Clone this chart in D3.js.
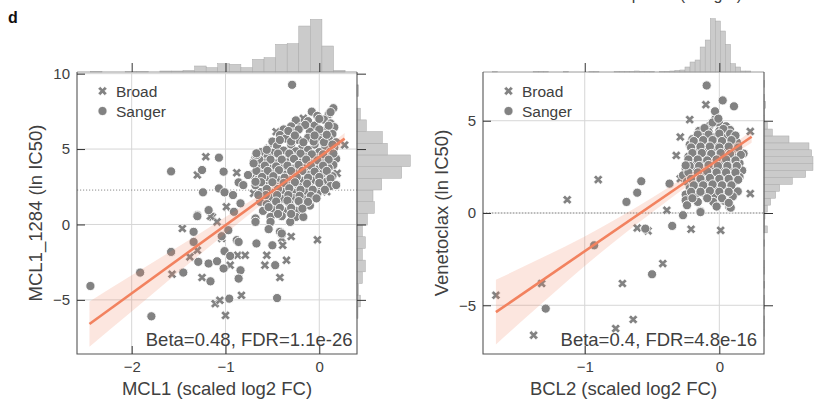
<!DOCTYPE html>
<html>
<head>
<meta charset="utf-8">
<script src="https://cdn.jsdelivr.net/npm/d3@7"></script>
<style>
  body { margin: 0; background: #fff; }
  svg { display: block; }
  text { font-family: "Liberation Sans", Arial, sans-serif; }
</style>
</head>
<body>
<svg id="chart" width="814" height="401"></svg>
<script>
// ---------- MCL1 panel data ----------
const leftXLabel = "MCL1 (scaled log2 FC)";
const leftYLabel = "MCL1_1284 (ln IC50)";
const leftStat = "Beta=0.48, FDR=1.1e-26";
const leftXDomain = [-2.583, 0.402];
const leftYDomain = [-8.59, 10.11];
const leftXTicks = [-2, -1, 0];
const leftYTicks = [-5, 0, 5, 10];
const leftMaxConc = 2.28;
const leftFitCoef = [4.47, 4.52];          // intercept, slope
const leftFitRange = [-2.45, 0.27];
const leftBandX = [-2.45, -2.0, -1.5, -1.0, -0.5, 0.0, 0.27];
const leftBandHalf = [1.5, 1.2, 0.85, 0.55, 0.33, 0.3, 0.38];

const leftSanger = [
  // main cloud
  [-0.08,7.48],[0.15,7.71],[0.1,7.3],[-0.02,7.2],
  [-0.25,6.9],[-0.12,6.85],[0.05,6.95],[0.12,6.7],[-0.3,6.5],
  [-0.38,6.3],[-0.2,6.45],[-0.05,6.55],[0.08,6.3],[0.16,6.45],[-0.42,5.93],[-0.28,6.1],[-0.1,6.15],[0.02,6.05],[0.14,6.0],
  [-0.5,5.5],[-0.36,5.7],[-0.22,5.6],[-0.12,5.75],[0.0,5.6],[0.1,5.7],[0.18,5.45],[-0.45,5.2],[-0.3,5.3],[-0.18,5.15],[-0.05,5.3],[0.06,5.2],[0.16,5.1],
  [-0.62,4.8],[-0.5,4.75],[-0.38,4.9],[-0.25,4.85],[-0.12,4.95],[0.0,4.8],[0.12,4.85],[-0.55,4.5],[-0.42,4.45],[-0.3,4.55],[-0.16,4.5],[-0.04,4.4],[0.08,4.5],[0.18,4.35],
  [-0.7,4.15],[-0.58,4.1],[-0.46,4.05],[-0.34,4.15],[-0.2,4.1],[-0.08,4.05],[0.05,4.15],[0.15,3.95],[-0.64,3.75],[-0.52,3.7],[-0.4,3.8],[-0.28,3.7],[-0.15,3.75],[-0.02,3.65],[0.1,3.75],
  [-0.72,3.3],[-0.6,3.35],[-0.48,3.4],[-0.36,3.3],[-0.24,3.4],[-0.1,3.3],[0.03,3.35],[0.14,3.2],[-0.66,2.95],[-0.55,3.0],[-0.42,2.95],[-0.3,3.0],[-0.18,2.9],[-0.05,2.95],[0.08,2.85],[0.18,2.61],
  [-0.68,2.6],[-0.57,2.55],[-0.45,2.5],[-0.34,2.6],[-0.22,2.5],[-0.1,2.45],[0.02,2.5],[-0.62,2.15],[-0.5,2.1],[-0.38,2.2],[-0.26,2.1],[-0.14,2.15],[-0.02,2.05],
  [-0.63,1.5],[-0.52,1.75],[-0.4,1.7],[-0.28,1.75],[-0.16,1.65],[-0.03,1.73],[-0.56,1.35],[-0.44,1.3],[-0.32,1.4],[-0.2,1.3],[-0.1,1.25],
  [-0.6,0.9],[-0.48,0.95],[-0.36,0.85],[-0.24,0.9],[-0.68,0.4],[-0.52,0.5],[-0.4,0.55],[-0.25,0.5],[-0.17,0.5],[-0.52,0.17],[-0.31,0.17],
  [0.0,7.0],[0.12,7.45],
  [-0.15,6.6],[0.0,6.3],[0.1,6.55],[-0.33,6.2],[-0.22,6.3],
  [-0.42,5.6],[-0.3,5.5],[-0.17,5.45],[-0.06,5.5],[0.05,5.45],[0.14,5.3],[-0.26,5.9],[-0.05,5.9],[0.08,5.95],
  [-0.56,4.95],[-0.44,4.7],[-0.32,4.7],[-0.2,4.7],[-0.08,4.65],[0.04,4.65],[0.15,4.7],[-0.68,4.45],
  [-0.64,4.3],[-0.52,4.3],[-0.4,4.3],[-0.27,4.35],[-0.14,4.3],[-0.02,4.25],[0.1,4.3],[-0.58,3.9],[-0.46,3.85],[-0.34,3.9],[-0.22,3.95],[-0.09,3.9],[0.04,3.9],
  [-0.67,3.55],[-0.55,3.55],[-0.43,3.6],[-0.3,3.55],[-0.18,3.55],[-0.05,3.5],[0.08,3.55],[-0.61,3.15],[-0.49,3.2],[-0.37,3.1],[-0.24,3.15],[-0.12,3.1],[0.0,3.15],[0.12,3.05],
  [-0.62,2.8],[-0.5,2.8],[-0.38,2.75],[-0.26,2.8],[-0.13,2.7],[0.0,2.75],[0.12,2.55],[-0.56,2.35],[-0.44,2.35],[-0.32,2.4],[-0.2,2.3],[-0.07,2.3],[0.06,2.3],
  [-0.57,1.95],[-0.45,1.95],[-0.33,1.95],[-0.21,1.9],[-0.09,1.9],[-0.46,1.52],[-0.34,1.58],[-0.22,1.55],[-0.12,1.5],
  [-0.54,1.15],[-0.42,1.1],[-0.3,1.1],[-0.18,1.05],[-0.44,0.7],[-0.3,0.7],
  // scattered
  [-0.29,9.26],[-1.07,4.43],[-1.25,3.61],[-1.02,3.5],[-1.24,2.13],[-1.07,2.39],[-1.01,2.13],[-0.92,1.95],[-0.86,2.79],[-0.81,2.61],
  [-0.76,3.28],[-0.68,2.83],[-0.65,1.95],[-0.84,1.4],[-0.91,0.84],[-1.18,0.95],[-1.3,0.62],[-1.34,-0.49],[-0.97,-0.38],[-0.88,-1.04],
  [-0.68,0.17],[-0.54,-0.31],[-0.42,-0.49],[-0.03,1.73],[0.18,2.61],[-0.67,4.6],[-0.7,4.05],[-1.58,3.52],[-0.67,4.72],
  [-2.44,-4.08],[-1.91,-3.19],[-1.79,-6.09],[-1.58,-1.82],[-1.45,-3.19],[-1.34,-1.16],[-1.3,0.55],[-1.29,-2.48],[-1.18,-2.59],
  [-1.16,-3.77],[-1.09,-2.44],[-1.02,-2.92],[-1.04,-0.78],[-1.01,-1.77],[-0.95,-2.09],[-0.86,-1.16],[-0.84,-3.04],[-0.86,-3.59],
  [-0.96,-4.92],[-0.67,-1.26],[-0.47,-2.7],[-0.5,-1.38],[-0.4,-0.6],[-0.45,-4.88]
];
const leftBroad = [
  [-1.21,4.49],[-1.3,3.28],[-0.88,3.43],[-0.62,2.79],[-0.7,2.06],[-0.99,1.17],[-1.14,0.5],[-1.09,0.17],[-1.04,-0.93],
  [-0.3,-0.8],[-0.4,-0.93],[-0.02,-1.02],[0.08,2.17],[0.27,5.27],[-0.17,7.04],[-0.46,6.15],[-0.54,5.05],[0.19,3.39],
  [-1.57,-3.3],[-1.46,-0.27],[-1.3,-1.71],[-1.38,-2.15],[-1.16,0.55],[-1.25,-3.52],[-0.95,-2.7],[-0.87,-2.04],[-0.79,-2.04],
  [-0.83,-4.7],[-1.11,-5.25],[-1.06,-5.03],[-1.0,-6.03],[-0.56,-2.04],[-0.58,-2.7],[-0.42,-3.52],[-0.39,-1.38],[-0.35,-2.37]
];
// marginal histograms: first bin edge, bin width, counts
const leftTopStart = -2.44, leftTopWidth = 0.1234;
const leftTopCounts = [1,0,0,1,1,0,3,3,5,18,13,25,23,13,38,43,83,85,138,158,78,5];
const leftSideStart = -6.24, leftSideWidth = 0.775;
const leftSideCounts = [3,10,5,16,25,16,25,16,31,52,48,74,134,160,91,76,28,10,0,5];

// ---------- BCL2 panel data ----------
const rightXLabel = "BCL2 (scaled log2 FC)";
const rightYLabel = "Venetoclax (ln IC50)";
const rightStat = "Beta=0.4, FDR=4.8e-16";
const rightXDomain = [-1.756, 0.332];
const rightYDomain = [-7.64, 7.64];
const rightXTicks = [-1, 0];
const rightYTicks = [-5, 0, 5];
const rightMaxConc = 0.0;
const rightFitCoef = [2.93, 5.0];
const rightFitRange = [-1.66, 0.24];
const rightBandX = [-1.66, -1.33, -1.0, -0.5, 0.0, 0.24];
const rightBandHalf = [1.75, 1.25, 0.8, 0.4, 0.25, 0.32];

const rightSanger = [
  [-0.03,5.1],[0.0,4.85],[-0.07,4.75],[0.05,4.7],
  [-0.15,4.45],[-0.08,4.4],[0.0,4.45],[0.08,4.5],[-0.12,4.15],[-0.04,4.1],[0.04,4.2],[0.11,4.1],[-0.2,4.0],
  [-0.22,3.7],[-0.15,3.75],[-0.08,3.8],[-0.01,3.7],[0.06,3.75],[0.13,3.84],[-0.18,3.4],[-0.11,3.45],[-0.04,3.4],[0.03,3.5],[0.1,3.4],[0.18,3.22],
  [-0.23,3.05],[-0.16,3.1],[-0.09,3.0],[-0.02,3.1],[0.05,3.05],[0.12,3.0],[-0.2,2.75],[-0.13,2.7],[-0.06,2.8],[0.01,2.7],[0.08,2.75],[0.15,2.7],
  [-0.25,2.4],[-0.18,2.35],[-0.11,2.45],[-0.04,2.4],[0.03,2.35],[0.1,2.45],[0.17,2.3],[-0.27,2.04],[-0.2,2.0],[-0.13,2.05],[-0.06,2.1],[0.01,2.0],[0.08,2.05],[0.15,1.95],
  [-0.24,1.7],[-0.17,1.65],[-0.1,1.75],[-0.03,1.7],[0.04,1.65],[0.11,1.7],[-0.22,1.35],[-0.15,1.3],[-0.08,1.4],[-0.01,1.3],[0.06,1.35],[0.137,1.17],
  [-0.25,1.0],[-0.18,0.95],[-0.11,1.05],[-0.04,0.95],[0.03,1.0],[0.1,0.9],[-0.25,0.69],[-0.16,0.6],[-0.045,0.6],[0.04,0.65],[-0.14,0.09],[0.074,0.32],[-0.24,0.42],[0.085,0.29],[-0.02,0.35],
  [-0.05,4.9],[0.03,4.55],[-0.11,4.6],[-0.16,4.25],[-0.08,4.25],[0.0,4.3],[0.08,4.3],[0.12,4.2],
  [-0.19,3.9],[-0.12,3.95],[-0.05,3.95],[0.02,3.9],[0.09,3.95],[-0.21,3.55],[-0.14,3.6],[-0.07,3.6],[0.0,3.55],[0.07,3.6],[0.14,3.55],
  [-0.2,3.25],[-0.13,3.25],[-0.06,3.2],[0.01,3.25],[0.08,3.2],[0.16,3.15],[-0.23,2.9],[-0.16,2.9],[-0.09,2.85],[-0.02,2.9],[0.05,2.9],[0.12,2.85],
  [-0.22,2.55],[-0.15,2.55],[-0.08,2.6],[-0.01,2.55],[0.06,2.55],[0.13,2.55],[-0.23,2.2],[-0.16,2.2],[-0.09,2.25],[-0.02,2.2],[0.05,2.2],[0.12,2.2],
  [-0.21,1.85],[-0.14,1.85],[-0.07,1.9],[0.0,1.85],[0.07,1.85],[0.14,1.8],[-0.19,1.5],[-0.12,1.5],[-0.05,1.55],[0.02,1.5],[0.09,1.5],
  [-0.21,1.15],[-0.14,1.15],[-0.07,1.2],[0.0,1.15],[0.07,1.15],[-0.2,0.8],[-0.09,0.8],[0.02,0.8],[0.07,0.55],
  [-0.094,6.91],[0.025,6.1],[0.109,5.78],[-0.032,5.51],[-0.007,5.11],[-0.37,1.59],[-0.58,1.72],[-0.61,1.1],[-0.35,-0.7],[-0.55,-0.85],
  [-0.93,-1.75],[-0.69,0.6],[-1.29,-5.18],[-0.27,-0.12],[-0.14,0.05],[-0.5,-3.32],[-0.25,2.58]
];
const rightBroad = [
  [-0.1,5.87],[-0.22,5.06],[-0.29,4.12],[-0.32,3.12],[0.23,4.42],[-0.29,1.86],[-0.39,0.15],[-0.21,-0.88],[0.01,-0.94],
  [-0.61,-0.81],[0.23,1.05],[-1.66,-4.46],[-1.32,-3.82],[-1.38,-6.62],[-1.13,0.72],[-0.9,1.81],[-0.53,-0.97],[-0.42,-2.74],
  [-0.72,-3.82],[-0.64,-5.77],[-0.77,-6.26]
];
const rightTopStart = -1.684, rightTopWidth = 0.0376;
const rightTopCounts = [1,0,0,0,0,0,0,0,1,1,1,0,0,0,2,0,0,0,0,1,1,0,0,0,1,1,1,1,3,2,2,2,0,1,2,3,5,6,
  15,30,36,75,96,160,153,123,83,25,15,3,3,0,0];
const rightSideStart = -6.70, rightSideWidth = 0.375;
const rightSideCounts = [1,1,1,0,1,1,0,2,0,1,1,0,0,1,0,10,2,3,10,20,35,47,85,125,147,147,143,135,75,25,10,2,1,5,1,0,1];

const legendLabels = ["Broad", "Sanger"];
const panelLetter = "d";
const headerText = "Venetoclax response (Sanger)";

// ---------- drawing ----------
const svg = d3.select("#chart");
const pointColor = "#828282";
const fitColor = "#f2825f";
const crossPath = d3.symbol(d3.symbolCross, 52)();
const histScale = d3.scaleLinear().domain([0, 160]).range([0, 53.3]);
const tickFmt = d3.format("d");

function binsFrom(start, width, counts) {
  return counts.map((c, i) => ({ lo: start + i * width, hi: start + (i + 1) * width, c }))
               .filter(d => d.c > 0);
}

function drawPanel(p) {
  const b = p.box;
  const x = d3.scaleLinear().domain(p.xDomain).range([b.x0, b.x1]);
  const y = d3.scaleLinear().domain(p.yDomain).range([b.y1, b.y0]);
  const g = svg.append("g");

  const clipId = "clip-" + p.id;
  svg.append("clipPath").attr("id", clipId).append("rect")
    .attr("x", b.x0).attr("y", b.y0).attr("width", b.x1 - b.x0).attr("height", b.y1 - b.y0);

  // marginal histograms
  g.append("g").selectAll("rect").data(binsFrom(p.topHist[0], p.topHist[1], p.topHist[2])).join("rect")
    .attr("x", d => x(d.lo)).attr("width", d => x(d.hi) - x(d.lo))
    .attr("y", d => b.y0 - histScale(d.c)).attr("height", d => histScale(d.c))
    .attr("fill", "#cbcbcb").attr("stroke", "#a9a9a9").attr("stroke-width", 0.5);
  g.append("g").selectAll("rect").data(binsFrom(p.sideHist[0], p.sideHist[1], p.sideHist[2])).join("rect")
    .attr("x", b.x1).attr("width", d => histScale(d.c))
    .attr("y", d => y(d.hi)).attr("height", d => y(d.lo) - y(d.hi))
    .attr("fill", "#cbcbcb").attr("stroke", "#a9a9a9").attr("stroke-width", 0.5);

  // grid
  const grid = g.append("g").attr("stroke", "#d6d6d6").attr("stroke-width", 1);
  grid.selectAll(".gx").data(p.xTicks).join("line")
    .attr("x1", d => x(d)).attr("x2", d => x(d)).attr("y1", b.y0).attr("y2", b.y1);
  grid.selectAll(".gy").data(p.yTicks).join("line")
    .attr("x1", b.x0).attr("x2", b.x1).attr("y1", d => y(d)).attr("y2", d => y(d));

  // maximum concentration line
  g.append("line").attr("x1", b.x0).attr("x2", b.x1)
    .attr("y1", y(p.maxConc)).attr("y2", y(p.maxConc))
    .attr("stroke", "#8c8c8c").attr("stroke-width", 1).attr("stroke-dasharray", "1.2,1.8");

  const plot = g.append("g").attr("clip-path", `url(#${clipId})`);

  // Broad cell lines
  plot.append("g").selectAll("path").data(p.broad).join("path")
    .attr("d", crossPath)
    .attr("transform", d => `translate(${x(d[0])},${y(d[1])}) rotate(45)`)
    .attr("fill", pointColor).attr("stroke", "#fff").attr("stroke-width", 0.6);

  // Sanger cell lines
  plot.append("g").selectAll("circle").data(p.sanger).join("circle")
    .attr("cx", d => x(d[0])).attr("cy", d => y(d[1])).attr("r", 4.6)
    .attr("fill", pointColor).attr("stroke", "#fff").attr("stroke-width", 0.9);

  // regression fit with confidence band
  const fit = v => p.fitCoef[0] + p.fitCoef[1] * v;
  const band = p.bandX.map((v, i) => ({ v, lo: fit(v) - p.bandHalf[i], hi: fit(v) + p.bandHalf[i] }));
  plot.append("path").datum(band)
    .attr("d", d3.area().x(d => x(d.v)).y0(d => y(d.lo)).y1(d => y(d.hi)).curve(d3.curveMonotoneX))
    .attr("fill", fitColor).attr("fill-opacity", 0.2);
  plot.append("path").datum(p.fitRange)
    .attr("d", d3.line().x(d => x(d)).y(d => y(fit(d))))
    .attr("stroke", fitColor).attr("stroke-width", 2.6).attr("fill", "none");

  // frame
  g.append("line").attr("x1", b.x0).attr("x2", b.x1).attr("y1", b.y0).attr("y2", b.y0)
    .attr("stroke", "#9a9a9a").attr("stroke-width", 1);
  g.append("path")
    .attr("d", `M${b.x0},${b.y0}V${b.y1}H${b.x1}V${b.y0}`)
    .attr("fill", "none").attr("stroke", "#555").attr("stroke-width", 1.1);

  // axes: inward ticks on the frame, outward ticks into the marginals
  const styleAxis = sel => {
    sel.select(".domain").remove();
    sel.selectAll(".tick line").attr("stroke", "#333");
    sel.selectAll(".tick text").attr("fill", "#404040")
      .style("font-size", "15px").style("font-family", '"Liberation Sans", Arial, sans-serif');
  };
  g.append("g").attr("transform", `translate(${b.x0},0)`)
    .call(d3.axisLeft(y).tickValues(p.yTicks).tickFormat(tickFmt).tickSize(-8).tickPadding(7)).call(styleAxis);
  g.append("g").attr("transform", `translate(0,${b.y1})`)
    .call(d3.axisBottom(x).tickValues(p.xTicks).tickFormat(tickFmt).tickSize(-8).tickPadding(7.5)).call(styleAxis);
  g.append("g").attr("transform", `translate(0,${b.y0})`)
    .call(d3.axisTop(x).tickValues(p.xTicks).tickSize(9).tickFormat("")).call(styleAxis);
  g.append("g").attr("transform", `translate(${b.x1},0)`)
    .call(d3.axisRight(y).tickValues(p.yTicks).tickSize(9).tickFormat("")).call(styleAxis);

  // axis titles
  g.append("text").attr("x", (b.x0 + b.x1) / 2).attr("y", b.y1 + 41)
    .attr("text-anchor", "middle").attr("fill", "#404040").style("font-size", "18.5px")
    .text(p.xLabel);
  g.append("text").attr("transform", `translate(${b.x0 - 35.5},${(b.y0 + b.y1) / 2}) rotate(-90)`)
    .attr("text-anchor", "middle").attr("fill", "#404040").style("font-size", "18.5px")
    .text(p.yLabel);

  // statistics
  g.append("text").attr("x", b.x1 - p.statInset).attr("y", b.y1 - 8.5)
    .attr("text-anchor", "end").attr("fill", "#404040").style("font-size", "18.5px")
    .text(p.stat);

  // legend
  const lg = g.append("g").attr("transform", `translate(${b.x0 + 25.5},${b.y0 + 19})`);
  lg.append("path").attr("d", crossPath).attr("transform", "rotate(45)")
    .attr("fill", pointColor).attr("stroke", "#fff").attr("stroke-width", 0.6);
  lg.append("circle").attr("cx", 0).attr("cy", 20).attr("r", 4.6)
    .attr("fill", pointColor).attr("stroke", "#fff").attr("stroke-width", 0.9);
  lg.selectAll("text").data(legendLabels).join("text")
    .attr("x", 13.5).attr("y", (d, i) => i * 20 + 5.6)
    .attr("fill", "#404040").style("font-size", "15.5px").text(d => d);
}

drawPanel({
  id: "mcl1", box: { x0: 77, x1: 357, y0: 72, y1: 354 },
  xDomain: leftXDomain, yDomain: leftYDomain, xTicks: leftXTicks, yTicks: leftYTicks,
  maxConc: leftMaxConc, sanger: leftSanger, broad: leftBroad,
  fitCoef: leftFitCoef, fitRange: leftFitRange, bandX: leftBandX, bandHalf: leftBandHalf,
  topHist: [leftTopStart, leftTopWidth, leftTopCounts],
  sideHist: [leftSideStart, leftSideWidth, leftSideCounts],
  xLabel: leftXLabel, yLabel: leftYLabel, stat: leftStat, statInset: 4.5
});
drawPanel({
  id: "bcl2", box: { x0: 483, x1: 764, y0: 72, y1: 354 },
  xDomain: rightXDomain, yDomain: rightYDomain, xTicks: rightXTicks, yTicks: rightYTicks,
  maxConc: rightMaxConc, sanger: rightSanger, broad: rightBroad,
  fitCoef: rightFitCoef, fitRange: rightFitRange, bandX: rightBandX, bandHalf: rightBandHalf,
  topHist: [rightTopStart, rightTopWidth, rightTopCounts],
  sideHist: [rightSideStart, rightSideWidth, rightSideCounts],
  xLabel: rightXLabel, yLabel: rightYLabel, stat: rightStat, statInset: 7
});

// panel letter and the header that runs off the top edge
svg.append("text").attr("x", 8).attr("y", 22.5).attr("fill", "#111")
  .style("font-size", "16px").style("font-weight", "bold").text(panelLetter);
svg.append("text").attr("x", 742).attr("y", 0.3).attr("text-anchor", "end").attr("fill", "#404040")
  .style("font-size", "16px").text(headerText);
</script>
</body>
</html>
